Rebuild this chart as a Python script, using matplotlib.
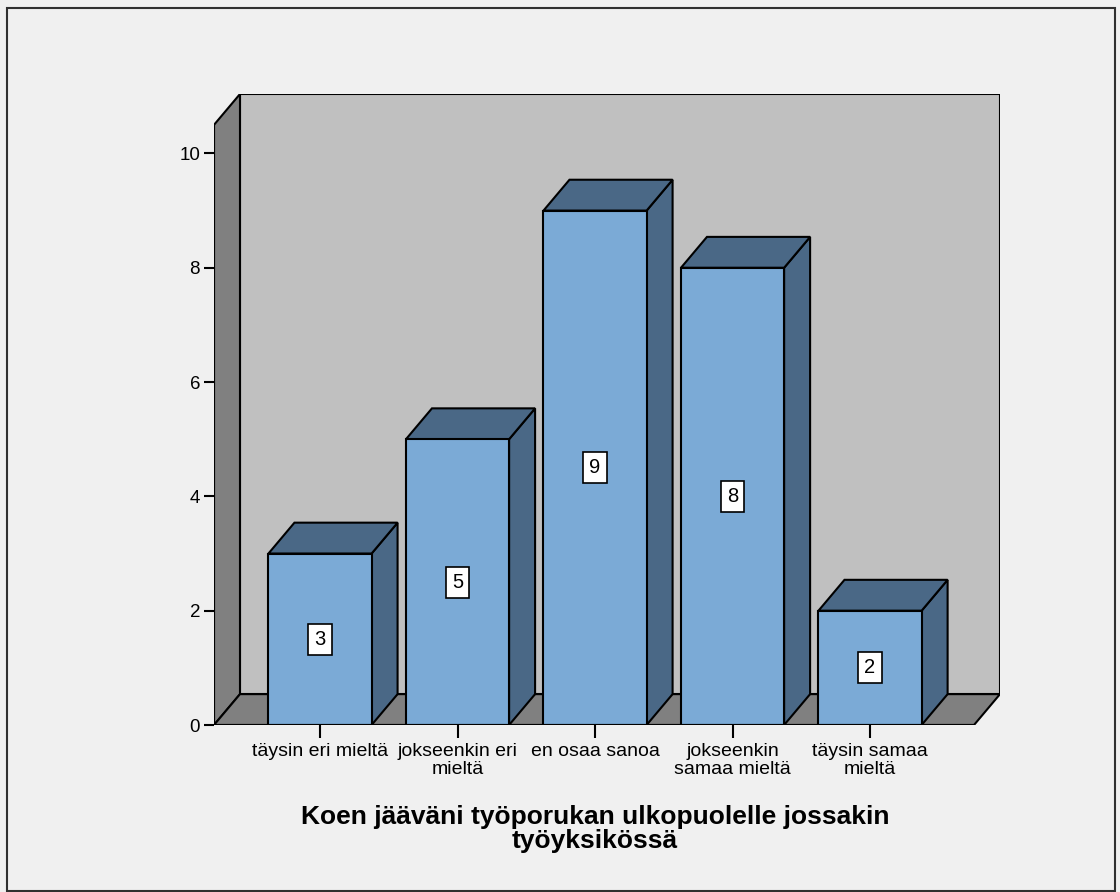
import matplotlib
matplotlib.use("Agg")
import matplotlib.pyplot as plt
from matplotlib.patches import Polygon, Rectangle

plt.rcParams['font.family'] = ['Liberation Sans', 'DejaVu Sans']

categories = ["täysin eri mieltä", "jokseenkin eri\nmieltä", "en osaa sanoa",
              "jokseenkin\nsamaa mieltä", "täysin samaa\nmieltä"]
counts = [3, 5, 9, 8, 2]
y_ticks = [0, 2, 4, 6, 8, 10]
title = "Koen jääväni työporukan ulkopuolelle jossakin\ntyöyksikössä"

FRONT = "#7baad6"
DARK = "#4a6886"
BACK_WALL = "#c0c0c0"
SIDE_WALL = "#808080"
BG = "#f0f0f0"
LW = 1.5

# 3d depth offset in data units
DX = 0.189
DY = 0.54
BAR_W = 0.75
X0, X1 = -0.771, 4.756
YMAX = 10.5

fig = plt.figure(figsize=(11.2, 8.92), dpi=100)
fig.patch.set_facecolor(BG)
ax = fig.add_axes([214 / 1120, 167 / 892, 786 / 1120, 631 / 892])
ax.set_xlim(X0, X1 + DX)
ax.set_ylim(0, YMAX + DY)
ax.patch.set_visible(False)
for s in ax.spines.values():
    s.set_visible(False)

# walls and floor
ax.add_patch(Rectangle((X0 + DX, DY), X1 - X0, YMAX, facecolor=BACK_WALL,
                       edgecolor="black", lw=LW, zorder=1))
ax.add_patch(Polygon([(X0, 0), (X0 + DX, DY), (X0 + DX, YMAX + DY), (X0, YMAX)],
                     closed=True, facecolor=SIDE_WALL, edgecolor="black", lw=LW, zorder=1))
ax.add_patch(Polygon([(X0, 0), (X1, 0), (X1 + DX, DY), (X0 + DX, DY)],
                     closed=True, facecolor=SIDE_WALL, edgecolor="black", lw=LW, zorder=1))

xs = list(range(len(categories)))
for x, v in zip(xs, counts):
    l, r = x - BAR_W / 2, x + BAR_W / 2
    ax.add_patch(Polygon([(r, 0), (r + DX, DY), (r + DX, v + DY), (r, v)],
                         closed=True, facecolor=DARK, edgecolor="black", lw=LW, zorder=2))
    ax.add_patch(Polygon([(l, v), (r, v), (r + DX, v + DY), (l + DX, v + DY)],
                         closed=True, facecolor=DARK, edgecolor="black", lw=LW, zorder=2))
ax.bar(xs, counts, width=BAR_W, color=FRONT, edgecolor="black", linewidth=LW, zorder=3)

for x, v in zip(xs, counts):
    ax.text(x, v / 2, str(v), ha="center", va="center", fontsize=14.5, zorder=4,
            bbox=dict(boxstyle="square,pad=0.3", facecolor="white", edgecolor="black", lw=1.2))

ax.set_yticks(y_ticks)
ax.set_xticks(xs)
ax.set_xticklabels(categories, fontsize=14, linespacing=1.1)
ax.tick_params(axis="y", labelsize=13.5, length=7, width=LW, pad=3)
ax.tick_params(axis="x", length=9, width=LW, pad=4)
ax.plot([X0, X0], [0, YMAX], color="black", lw=LW, zorder=5, solid_capstyle="butt")
ax.plot([X0 - 0.07, X1], [0, 0], color="black", lw=LW, zorder=5, solid_capstyle="butt")

fig.text(595 / 1120, (892 - 829) / 892, title, ha="center", va="center",
         fontsize=19, fontweight="bold", linespacing=0.95)

fig.add_artist(Rectangle((7 / 1120, 1 / 892), 1108 / 1120, 883 / 892, fill=False,
                         edgecolor="#303030", lw=1.5, transform=fig.transFigure))

fig.savefig("out.png", dpi=100, facecolor=BG)
